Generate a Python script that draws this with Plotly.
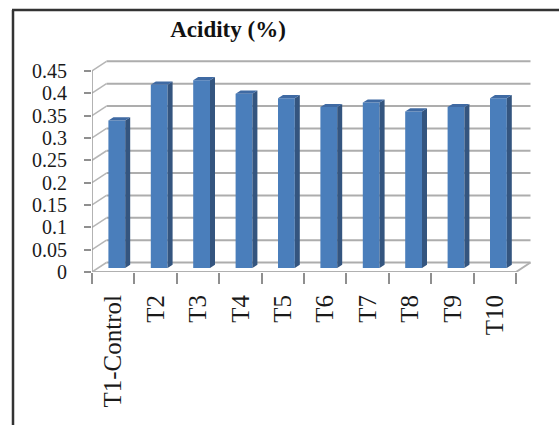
import plotly.graph_objects as go

categories = ["T1-Control", "T2", "T3", "T4", "T5", "T6", "T7", "T8", "T9", "T10"]
acidity = [0.33, 0.41, 0.42, 0.39, 0.38, 0.36, 0.37, 0.35, 0.36, 0.38]
y_ticks = [0, 0.05, 0.1, 0.15, 0.2, 0.25, 0.3, 0.35, 0.4, 0.45]
y_labels = ["0", "0.05", "0.1", "0.15", "0.2", "0.25", "0.3", "0.35", "0.4", "0.45"]

W, H = 559, 425
X0, X1, Y0, Y1 = 92, 536, 272, 56      # scene box in pixels
PX_X = 42.4                            # pixels per category
PX_Y = 447.0                           # pixels per unit of acidity
n = len(categories)
positions = list(range(1, n + 1))
left, right = 0.5, n + 0.5

def ux(px):
    return px / PX_X

def uy(px):
    return px / PX_Y

wall_dx, wall_dy = ux(14.5), uy(9.5)
bar_dx, bar_dy = ux(3.6), uy(4)
depth_dx, depth_dy = ux(5), uy(3.2)
half = ux(8.4)

fig = go.Figure()

GRID = "#adadad"

def line(xs, ys, color=GRID, width=2):
    fig.add_trace(go.Scatter(x=xs, y=ys, mode="lines", hoverinfo="skip",
                             line=dict(color=color, width=width), showlegend=False))

# back-wall gridlines and left-wall diagonals
gx, gy, dx, dy = [], [], [], []
for v in y_ticks:
    gx += [left + wall_dx, right + wall_dx, None]
    gy += [v + wall_dy, v + wall_dy, None]
    dx += [left, left + wall_dx, None]
    dy += [v, v + wall_dy, None]
line(gx, gy)
line(dx, dy, color="#b5b5b5", width=1.5)
# front axis lines and floor edge
line([left, left], [y_ticks[0], y_ticks[-1]], color="#9a9a9a", width=1.5)
line([left, right, right + wall_dx], [0, 0, wall_dy], color="#b0b0b0", width=2)

# dark side faces and top faces (on the overlay axes, above the grid)
sx, sy, tx, ty = [], [], [], []
for p, v in zip(positions, acidity):
    c = p + bar_dx
    sx += [c + half, c + half + depth_dx, c + half + depth_dx, c + half, c + half, None]
    sy += [bar_dy, bar_dy + depth_dy, bar_dy + v + depth_dy, bar_dy + v, bar_dy, None]
    tx += [c - half, c + half, c + half + depth_dx, c - half + depth_dx, c - half, None]
    ty += [bar_dy + v, bar_dy + v, bar_dy + v + depth_dy, bar_dy + v + depth_dy, bar_dy + v, None]

# front faces
fig.add_trace(go.Bar(x=[p + bar_dx for p in positions], y=acidity, base=bar_dy,
                     width=2 * half, marker=dict(color="#4a7ebb", line=dict(width=0)),
                     showlegend=False, customdata=categories, xaxis="x2", yaxis="y2",
                     hovertemplate="%{customdata}: %{y}<extra></extra>"))
fig.add_trace(go.Scatter(x=sx, y=sy, mode="lines", fill="toself", fillcolor="#34557f",
                         line=dict(width=0, color="#34557f"), hoverinfo="skip", showlegend=False,
                         xaxis="x2", yaxis="y2"))
fig.add_trace(go.Scatter(x=tx, y=ty, mode="lines", fill="toself", fillcolor="#3f6aa3",
                         line=dict(width=0, color="#3f6aa3"), hoverinfo="skip", showlegend=False,
                         xaxis="x2", yaxis="y2"))

x_dom = [X0 / W, X1 / W]
y_dom = [1 - Y0 / H, 1 - Y1 / H]
x_rng = [left, left + ux(X1 - X0)]
y_rng = [0, uy(Y0 - Y1)]

fig.update_layout(
    width=W, height=H, autosize=False, showlegend=False,
    margin=dict(l=0, r=0, t=0, b=0),
    paper_bgcolor="white", plot_bgcolor="rgba(0,0,0,0)",
    font=dict(family="Liberation Serif", color="#1a1a1a"),
    title=dict(text="<b>Acidity (%)</b>", x=228 / W, xanchor="center",
               y=1 - 29 / H, yanchor="middle", automargin=False,
               font=dict(family="Liberation Serif", size=23, color="#111111")),
    xaxis=dict(domain=x_dom, range=x_rng, automargin=False,
               tickmode="array", tickvals=positions, ticktext=categories,
               tickangle=-90, ticks="", ticklen=0, showgrid=False, zeroline=False,
               showline=False, ticklabelstandoff=17,
               tickfont=dict(size=25, family="Liberation Serif", color="#1a1a1a"),
               minor=dict(tickmode="array", tickvals=[p - 0.5 for p in positions] + [right],
                          ticks="outside", ticklen=11, tickwidth=1.5, tickcolor="#8f8f8f",
                          showgrid=False)),
    yaxis=dict(domain=y_dom, range=y_rng, automargin=False,
               tickmode="array", tickvals=y_ticks, ticktext=y_labels,
               ticks="outside", ticklen=7, tickwidth=1.5, tickcolor="#8f8f8f",
               showgrid=False, zeroline=False, showline=False, ticklabelstandoff=13,
               tickfont=dict(size=20, family="Liberation Serif", color="#1a1a1a")),
    xaxis2=dict(domain=x_dom, range=x_rng, anchor="y2", overlaying="x", visible=False, automargin=False),
    yaxis2=dict(domain=y_dom, range=y_rng, anchor="x2", overlaying="y", visible=False, automargin=False),
    shapes=[dict(type="line", xref="paper", yref="paper", x0=13 / W, x1=13 / W, y0=0, y1=1 - 10 / H,
                 line=dict(color="#333333", width=2.5)),
            dict(type="line", xref="paper", yref="paper", x0=12 / W, x1=1, y0=1 - 10 / H, y1=1 - 10 / H,
                 line=dict(color="#333333", width=2.5))],
)

fig.write_html("out.html", config=dict(displayModeBar=False),
               post_script="document.body.style.margin='0';document.body.style.overflow='hidden';")
